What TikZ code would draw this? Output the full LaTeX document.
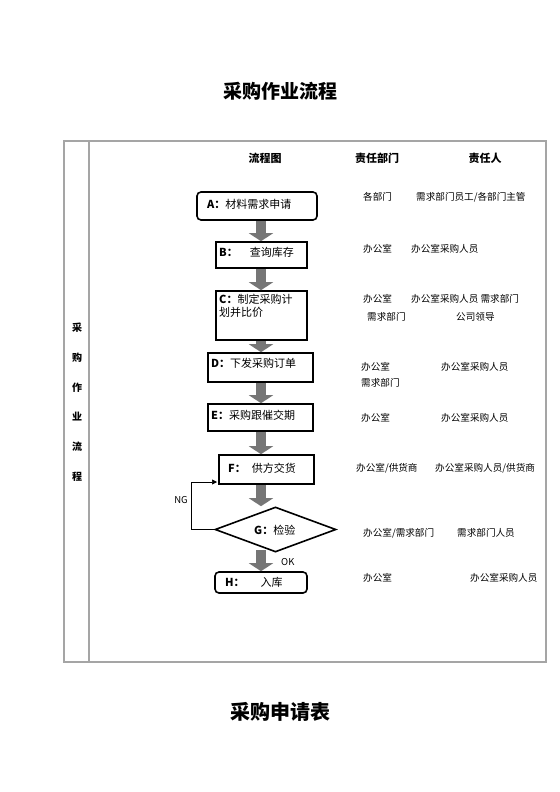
\documentclass[tikz,border=0pt]{standalone}
\usepackage{fontspec}
\setmainfont{Noto Sans CJK SC}
\usetikzlibrary{shapes.geometric,arrows.meta}
\definecolor{tblgray}{RGB}{165,165,165}
\definecolor{arrgray}{RGB}{118,118,118}
\begin{document}
\begin{tikzpicture}[x=1bp,y=-1bp,
  box/.style={draw=black,line width=1.6bp,inner sep=0pt},
  rbox/.style={box,rounded corners=4bp},
  lbl/.style={anchor=west,inner sep=0pt,font=\fontsize{11bp}{13bp}\selectfont,align=left},
  info/.style={anchor=west,inner sep=0pt,font=\fontsize{9.6bp}{11bp}\selectfont},
  head/.style={inner sep=0pt,font=\fontsize{11bp}{13bp}\selectfont\bfseries},
  side/.style={inner sep=0pt,font=\fontsize{10bp}{12bp}\selectfont\bfseries},
  title/.style={inner sep=0pt,font=\fontsize{19bp}{22bp}\selectfont\bfseries},
  blk/.style={draw=arrgray,line width=10.5bp,-{Triangle[width=24bp,length=8bp]}},
  ng/.style={draw=black,line width=0.7bp,-{Triangle[width=5bp,length=5bp]}}]
\useasboundingbox (0,0) rectangle (560,792);
% titles
\node[title] (t1) at (280,91) {采购作业流程};
\node[title,font=\fontsize{20bp}{24bp}\selectfont\bfseries] (t2) at (280,712) {采购申请表};
% table
\node[draw=tblgray,line width=1.2bp,minimum width=482bp,minimum height=521bp,inner sep=0pt] (tbl) at (305,401.5) {};
\coordinate (vtop) at (89,141);
\coordinate (vbot) at (89,662);
\draw[tblgray,line width=1.2bp] (vtop) -- (vbot);
% side text
\node[side] (s1) at (77,328) {采};
\node[side] (s2) at (77,358) {购};
\node[side] (s3) at (77,388) {作};
\node[side] (s4) at (77,417) {业};
\node[side] (s5) at (77,447) {流};
\node[side] (s6) at (77,477) {程};
% headers
\node[head] (h1) at (265,158) {流程图};
\node[head] (h2) at (377,158) {责任部门};
\node[head] (h3) at (485,158) {责任人};
% boxes
\node[rbox,minimum width=120bp,minimum height=28bp] (A) at (257,206) {};
\node[box,minimum width=91bp,minimum height=26bp] (B) at (261.5,255) {};
\node[box,minimum width=91bp,minimum height=49bp] (C) at (261.5,315.5) {};
\node[box,minimum width=105bp,minimum height=29bp] (D) at (260.5,367.5) {};
\node[box,minimum width=105bp,minimum height=27bp] (E) at (260.5,417.5) {};
\node[box,minimum width=95bp,minimum height=29bp] (F) at (266.5,469.5) {};
\node[draw=black,line width=1.6bp,diamond,inner sep=0pt,minimum width=121bp,minimum height=45bp] (G) at (275.5,529.5) {};
\node[rbox,minimum width=92bp,minimum height=21bp] (H) at (261,582.5) {};
% box labels
\node[lbl] (lA) at (207,204) {\textbf{A：}材料需求申请};
\node[lbl] (lB) at (219,252) {\textbf{B：}\hspace{12bp}查询库存};
\node[lbl] (lC) at (219,305.5) {\textbf{C：}制定采购计\\划并比价};
\node[lbl] (lD) at (211,363) {\textbf{D：}下发采购订单};
\node[lbl] (lE) at (211,415) {\textbf{E：}采购跟催交期};
\node[lbl] (lF) at (228,468) {\textbf{F：}\hspace{6bp}供方交货};
\node[lbl] (lG) at (254,530) {\textbf{G：}检验};
\node[lbl] (lH) at (225,582) {\textbf{H：}\hspace{16bp}入库};
% block arrows
\coordinate (ax) at (261,0);
\draw[blk] (A.south -| ax) -- (B.north -| ax);
\draw[blk] (B.south -| ax) -- (C.north -| ax);
\draw[blk] (C.south -| ax) -- (D.north -| ax);
\draw[blk] (D.south -| ax) -- (E.north -| ax);
\draw[blk] (E.south -| ax) -- (F.north -| ax);
\draw[blk] (F.south -| ax) -- (G.north -| ax);
\coordinate (gb) at (261,550);
\draw[blk] (gb) -- (H.north -| ax);
% NG loop
\coordinate (ngx) at (191,0);
\coordinate (ngend) at (217,482);
\draw[ng] (G.west) -- (G.west -| ngx) -- (ngend -| ngx) -- (ngend);
\node[inner sep=0pt,font=\fontsize{9.5bp}{11bp}\selectfont] (NG) at (181,500) {NG};
\node[inner sep=0pt,anchor=west,font=\fontsize{9.5bp}{11bp}\selectfont] (OK) at (281,562) {OK};
% info texts
\node[info] (a1) at (363,197) {各部门};
\node[info] (a2) at (416,197) {需求部门员工/各部门主管};
\node[info] (b1) at (363,249) {办公室};
\node[info] (b2) at (411,249) {办公室采购人员};
\node[info] (c1) at (363,299) {办公室};
\node[info] (c2) at (411,299) {办公室采购人员 需求部门};
\node[info] (c3) at (367,317) {需求部门};
\node[info] (c4) at (456,317) {公司领导};
\node[info] (d1) at (361,367) {办公室};
\node[info] (d2) at (441,367) {办公室采购人员};
\node[info] (d3) at (361,383) {需求部门};
\node[info] (e1) at (361,418) {办公室};
\node[info] (e2) at (441,418) {办公室采购人员};
\node[info] (f1) at (356,468) {办公室/供货商};
\node[info] (f2) at (435,468) {办公室采购人员/供货商};
\node[info] (g1) at (363,533) {办公室/需求部门};
\node[info] (g2) at (457,533) {需求部门人员};
\node[info] (h1i) at (363,578) {办公室};
\node[info] (h2i) at (470,578) {办公室采购人员};
\end{tikzpicture}
\end{document}
